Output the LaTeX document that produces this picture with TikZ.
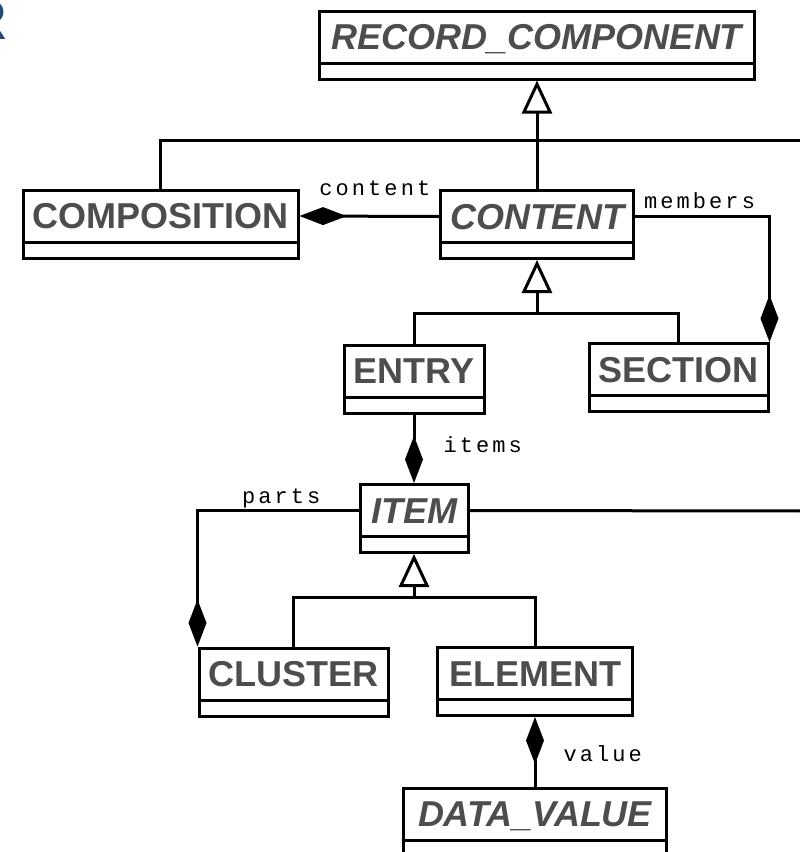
\documentclass[tikz,border=0pt]{standalone}
\usepackage{fontspec}
\usetikzlibrary{arrows.meta,positioning}

\newfontfamily\classfont{Liberation Sans}
\newfontfamily\rolefont[LetterSpace=14]{Liberation Mono}
\definecolor{nametext}{HTML}{4D4D4D}
\definecolor{logoblue}{HTML}{1F4B7A}

\begin{document}
\begin{tikzpicture}[x=1pt,y=-1pt,line width=3pt,
    classname/.style={draw,rectangle,inner sep=0pt,minimum height=52pt,
        text height=25pt,text depth=0pt,text=nametext,
        font=\classfont\fontsize{36}{36}\selectfont\bfseries},
    classattr/.style={draw,rectangle,inner sep=0pt,minimum height=16pt},
    role/.style={inner sep=0pt,font=\rolefont\fontsize{22}{22}\selectfont},
    isa/.style={-{Triangle[open,length=33pt,width=30pt]}},
    whole/.style={-{Diamond[length=47pt,width=18pt]}}]

\useasboundingbox[fill=white] (0,0) rectangle (800,852);

% Corner of the logo sticking in at the top left.
\node[anchor=base east,inner sep=0pt,text=logoblue,
    font=\classfont\fontsize{56}{56}\selectfont\bfseries] (logo) at (8,39) {R};

% Class boxes: name part, then the empty attribute part below it.
%
\foreach \nm/\cx/\cy/\w/\fsh/\txt in {
    reccomp/537/37/435/\itshape/RECORD\_COMPONENT,
    composition/160.5/216/275/\upshape/COMPOSITION,
    content/537/216.5/193/\itshape/CONTENT,
    entry/414/371/140/\upshape/ENTRY,
    section/678.5/369.5/179/\upshape/SECTION,
    item/414/510.5/108/\itshape/ITEM,
    cluster/293.5/674/189/\upshape/CLUSTER,
    element/535/673.5/195/\upshape/ELEMENT,
    datavalue/535/814/263/\itshape/DATA\_VALUE} {

    % Name part.
    \node[classname,minimum width=\w pt] (\nm) at (\cx,\cy) {\fsh\txt};

    % Attribute part, sharing the border line.
    \node[classattr,minimum width=\w pt,below=-3pt of \nm] (att\nm) {};
}

% Free ends running off to the right.
\coordinate (offcomp) at (805,140);
\coordinate (offitem) at (805,511);

% Fork points of the inheritance trees.
\coordinate (contentfork) at (537,313);
\coordinate (itemfork) at (414,597);

% CONTENT and COMPOSITION inherit RECORD_COMPONENT.
\draw[isa]
    (content.north) -- (attreccomp.south);
\draw
    (composition.north)
    % across to the right edge
    |- (offcomp);

% ENTRY and SECTION inherit CONTENT.
\draw[isa]
    (contentfork) -- (attcontent.south);
\draw
    (entry.north)
    |- (contentfork)
    -| (section.north);

% CLUSTER and ELEMENT inherit ITEM.
\draw[isa]
    (itemfork) -- (attitem.south);
\draw
    (cluster.north)
    |- (itemfork)
    -| (element.north);

% ITEM line to the right edge.
\draw
    (item.east) -- (offitem);

% Compositions with their role names.
\draw[whole]
    (content.west)
    -- node[role,anchor=base,pos=.46,yshift=21pt] (lblcontent) {content}
    (composition.east);

\draw[whole]
    (content.east)
    -| node[role,anchor=base,pos=.24,yshift=8pt] (lblmembers) {members}
    (section.north east);

\draw[whole]
    (attentry.south)
    -- node[role,anchor=base west,pos=.56,xshift=28pt] (lblitems) {items}
    (item.north);

\draw[whole]
    (item.west)
    -| node[role,anchor=base,pos=.24,yshift=7pt] (lblparts) {parts}
    (cluster.north west);

\draw[whole]
    (datavalue.north)
    -- node[role,anchor=base west,pos=.36,xshift=27pt] (lblvalue) {value}
    (attelement.south);

\end{tikzpicture}
\end{document}
